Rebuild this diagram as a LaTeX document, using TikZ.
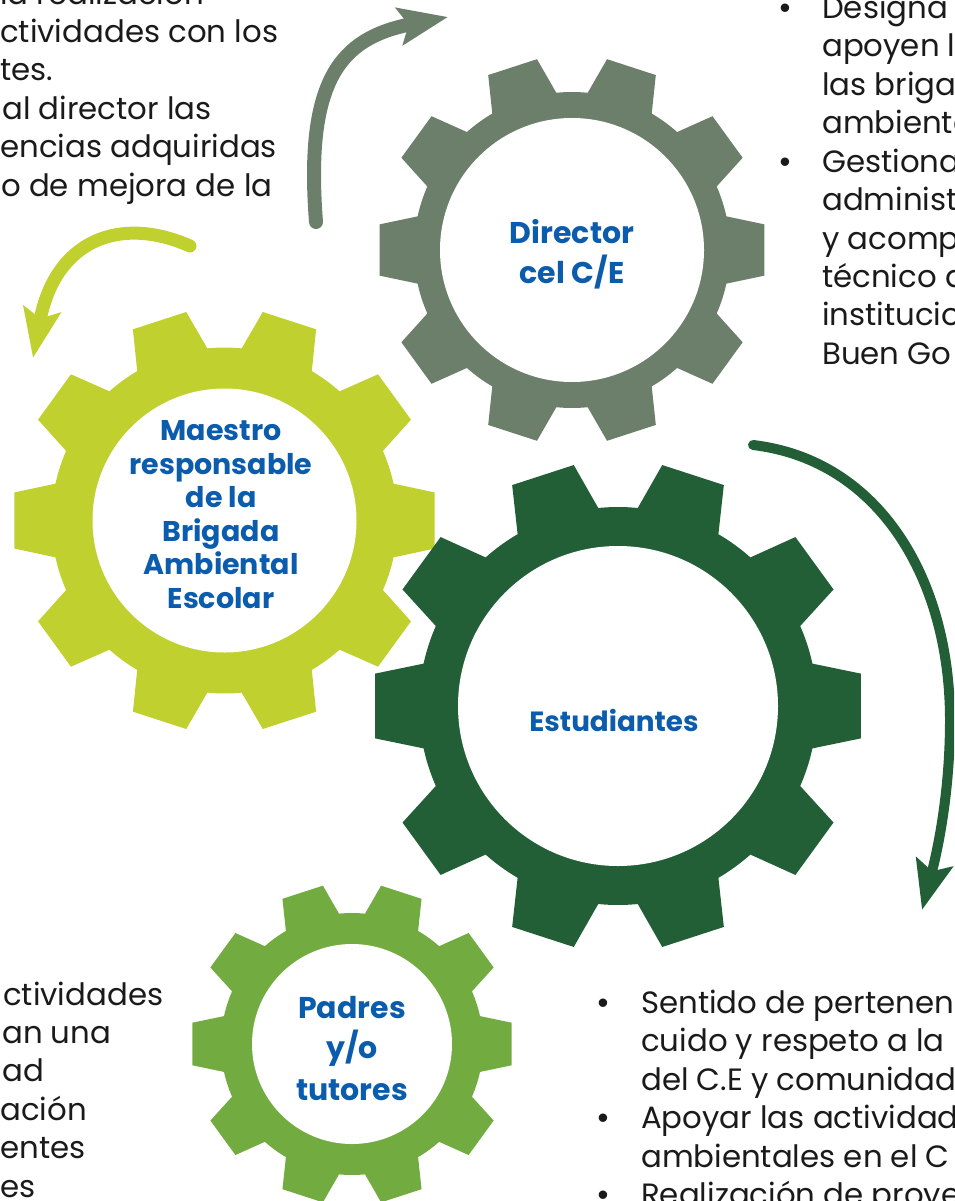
\documentclass[tikz,border=0pt]{standalone}
\usepackage{fontspec}
\setmainfont{Poppins}
\newfontfamily\bulletfont{Liberation Sans}
\usetikzlibrary{arrows.meta}
\definecolor{cdir}{HTML}{6B7F6B}
\definecolor{cmae}{HTML}{C0D02F}
\definecolor{cest}{HTML}{225F36}
\definecolor{cpad}{HTML}{72AC40}
\definecolor{cblue}{HTML}{0B5CAD}
\definecolor{ctext}{HTML}{1A1A1A}
\newcommand{\gearfill}[5]{%
  \fill[#5, shift={(#1,#2)}] (-12.3:#4)
  \foreach \a in {0,36,...,324}{ -- (\a-12.3:#4) -- (\a-7.6:#3) -- (\a+7.6:#3) -- (\a+12.3:#4)
    arc[start angle=\a+12.3, end angle=\a+23.7, radius=#4] } -- cycle;}
\tikzset{
  hole/.style={circle, fill=white, inner sep=0pt, minimum size=#1},
  glabel/.style={font=\bfseries\fontsize{#1}{#1}\selectfont, text=cblue, anchor=base, inner sep=0pt},
  body/.style={font=\fontsize{30.8}{36}\selectfont, text=ctext, anchor=base west, inner sep=0pt},
  bul/.style={font=\bulletfont\fontsize{31}{36}\selectfont, text=ctext, anchor=base, inner sep=0pt},
  garrow/.style={line width=#1, line cap=round, -{Stealth[length=49pt,width=37pt,inset=9pt]}}
}
\begin{document}
\begin{tikzpicture}[x=1pt,y=-1pt]
\useasboundingbox (0,0) rectangle (954,1201);
\clip (0,0) rectangle (954,1201);

% gears
\gearfill{572}{250}{194}{158}{cdir}
\node[hole=264pt] (dirc) at (572,250) {};
\gearfill{224.5}{520.5}{212}{173}{cmae}
\node[hole=264pt] (maec) at (224.5,520.5) {};
\gearfill{618}{706}{245}{199}{cest}
\node[hole=320pt] (estc) at (618,706) {};
\gearfill{352}{1044}{161}{131}{cpad}
\node[hole=200pt] (padc) at (352,1044) {};

% gear labels
\node[glabel=30] (dir1) at (572,243) {Director};
\node[glabel=30] (dir2) at (572,283) {cel C/E};
\node[glabel=28.5] (mae1) at (221,440.7) {Maestro};
\node[glabel=28.5] (mae2) at (221,474) {responsable};
\node[glabel=28.5] (mae3) at (221,507.5) {de la};
\node[glabel=28.5] (mae4) at (221,541) {Brigada};
\node[glabel=28.5] (mae5) at (221,574.5) {Ambiental};
\node[glabel=28.5] (mae6) at (221,608) {Escolar};
\node[glabel=27.8] (est1) at (614,731) {Estudiantes};
\node[glabel=30] (pad1) at (352,1018) {Padres};
\node[glabel=30] (pad2) at (352,1058) {y/o};
\node[glabel=30] (pad3) at (352,1100) {tutores};

% arrows
\coordinate (a1s) at (316,222); \coordinate (a1e) at (448,17);
\draw[garrow=14pt, cdir] (a1s) .. controls (305,80) and (340,38) .. (a1e);
\coordinate (a2s) at (190,246); \coordinate (a2e) at (33,358);
\draw[garrow=13pt, cmae] (a2s) .. controls (120,215) and (55,240) .. (a2e);
\coordinate (a3s) at (753,445); \coordinate (a3m) at (950,720); \coordinate (a3e) at (922,910);
\draw[garrow=10pt, cest] (a3s) .. controls (880,460) and (950,580) .. (a3m)
  .. controls (950,800) and (935,860) .. (a3e);

% top-left text
\node[body] (tl1) at (0,4.7) {la realización};
\node[body] (tl2) at (0,42.7) {ctividades con los};
\node[body] (tl3) at (0,81) {tes.};
\node[body] (tl4) at (2,119.4) {al director las};
\node[body] (tl5) at (0,157.8) {encias adquiridas};
\node[body] (tl6) at (1,196.2) {o de mejora de la};

% top-right text
\node[bul] (tb1) at (785,18.6) {•};
\node[body] (tr1) at (822,18.6) {Designa};
\node[body] (tr2) at (822,57) {apoyen l};
\node[body] (tr3) at (822,95.4) {las brigad};
\node[body] (tr4) at (822,133.8) {ambienta};
\node[bul] (tb2) at (785,172.2) {•};
\node[body] (tr5) at (822,172.2) {Gestiona};
\node[body] (tr6) at (822,210.6) {administr};
\node[body] (tr7) at (822,249) {y acomp};
\node[body] (tr8) at (822,287.4) {técnico d};
\node[body] (tr9) at (822,325.8) {institucio};
\node[body] (tr10) at (822,364.2) {Buen Go};

% bottom-left text
\node[body] (bl1) at (3,1005) {ctividades};
\node[body] (bl2) at (2,1043.4) {an una};
\node[body] (bl3) at (2,1081.8) {ad};
\node[body] (bl4) at (0,1120.2) {ación};
\node[body] (bl5) at (0,1158.6) {entes};
\node[body] (bl6) at (0,1197) {es};

% bottom-right text
\node[bul] (bb1) at (603,1013.4) {•};
\node[body] (br1) at (641,1013.4) {Sentido de pertenen};
\node[body] (br2) at (641,1051.8) {cuido y respeto a la};
\node[body] (br3) at (641,1090.2) {del C.E y comunidad};
\node[bul] (bb2) at (603,1128.6) {•};
\node[body] (br4) at (641,1128.6) {Apoyar las actividad};
\node[body] (br5) at (641,1167) {ambientales en el C};
\node[bul] (bb3) at (603,1205.4) {•};
\node[body] (br6) at (641,1205.4) {Realización de proye};
\end{tikzpicture}
\end{document}
